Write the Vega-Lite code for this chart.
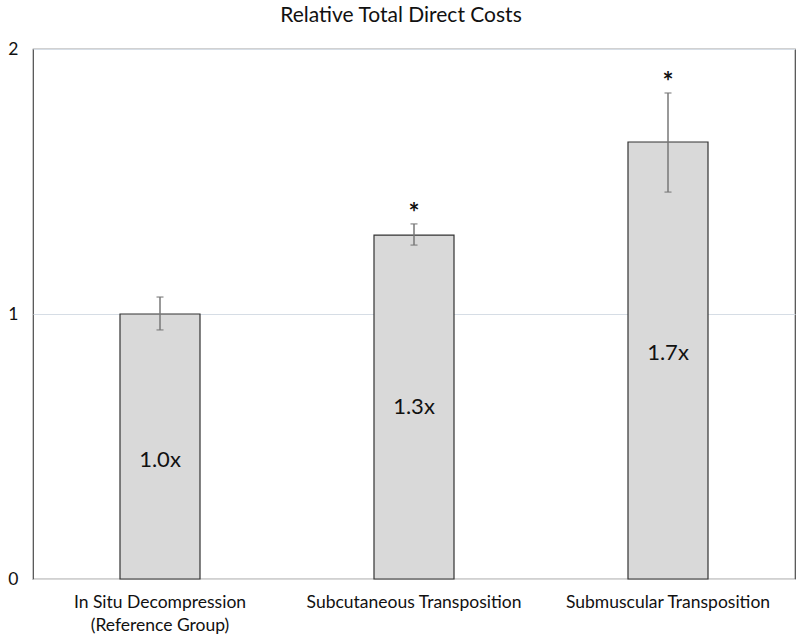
{
  "$schema": "https://vega.github.io/schema/vega-lite/v6.json",
  "width": 762,
  "height": 530,
  "autosize": {"type": "none"},
  "padding": {"left": 33, "top": 49, "right": 5, "bottom": 61},
  "background": "white",
  "config": {
    "font": "Lato",
    "view": {"stroke": "#4a4a4a", "strokeWidth": 1.2}
  },
  "title": {
    "text": "Relative Total Direct Costs",
    "fontSize": 21,
    "fontWeight": "normal",
    "color": "#111111",
    "anchor": "middle",
    "dx": -13,
    "offset": 14,
    "font": "Lato"
  },
  "data": {
    "values": [
      {"group": "In Situ Decompression|(Reference Group)", "value": 1.0, "lo": 0.94, "hi": 1.064, "label": "1.0x", "ly": 0.449, "star": ""},
      {"group": "Subcutaneous Transposition", "value": 1.298, "lo": 1.26, "hi": 1.34, "label": "1.3x", "ly": 0.649, "star": "*"},
      {"group": "Submuscular Transposition", "value": 1.649, "lo": 1.46, "hi": 1.834, "label": "1.7x", "ly": 0.853, "star": "*"}
    ]
  },
  "encoding": {
    "x": {
      "field": "group",
      "type": "nominal",
      "sort": null,
      "scale": {"paddingInner": 0.685, "paddingOuter": 0.3425},
      "axis": {
        "title": null,
        "labelAngle": 0,
        "labelExpr": "split(datum.label, '|')",
        "labelFontSize": 17.5,
        "labelColor": "#111111",
        "labelPadding": 14,
        "labelLineHeight": 23,
        "labelLimit": 400,
        "ticks": false,
        "domainColor": "#d9d9d9",
        "domainWidth": 1.2,
        "labelFont": "Lato"
      }
    }
  },
  "layer": [
    {
      "mark": {"type": "bar", "color": "#d9d9d9", "stroke": "#333333", "strokeWidth": 1.2},
      "encoding": {
        "y": {
          "field": "value",
          "type": "quantitative",
          "scale": {"domain": [0, 2]},
          "axis": {
            "title": null,
            "values": [0, 1, 2],
            "format": ".0f",
            "labelOverlap": false,
            "ticks": false,
            "domain": false,
            "labelFontSize": 17.5,
            "labelColor": "#111111",
            "labelPadding": 15,
            "labelFont": "Lato",
            "grid": true,
            "gridColor": "#d6dde5",
            "gridWidth": 1
          }
        }
      }
    },
    {
      "mark": {"type": "rule", "color": "#777777", "strokeWidth": 1.5},
      "encoding": {
        "y": {"field": "lo", "type": "quantitative"},
        "y2": {"field": "hi"}
      }
    },
    {
      "mark": {"type": "tick", "orient": "horizontal", "size": 7, "thickness": 1.5, "color": "#777777"},
      "encoding": {"y": {"field": "lo", "type": "quantitative"}}
    },
    {
      "mark": {"type": "tick", "orient": "horizontal", "size": 7, "thickness": 1.5, "color": "#777777"},
      "encoding": {"y": {"field": "hi", "type": "quantitative"}}
    },
    {
      "mark": {"type": "text", "fontSize": 26, "fontWeight": "bold", "color": "#111111", "baseline": "alphabetic", "dy": -2},
      "encoding": {
        "y": {"field": "hi", "type": "quantitative"},
        "text": {"field": "star"}
      },
      "transform": [{"filter": "datum.star != ''"}]
    },
    {
      "mark": {"type": "text", "fontSize": 22, "color": "#111111", "baseline": "middle"},
      "encoding": {
        "y": {"field": "ly", "type": "quantitative"},
        "text": {"field": "label"}
      }
    }
  ]
}
